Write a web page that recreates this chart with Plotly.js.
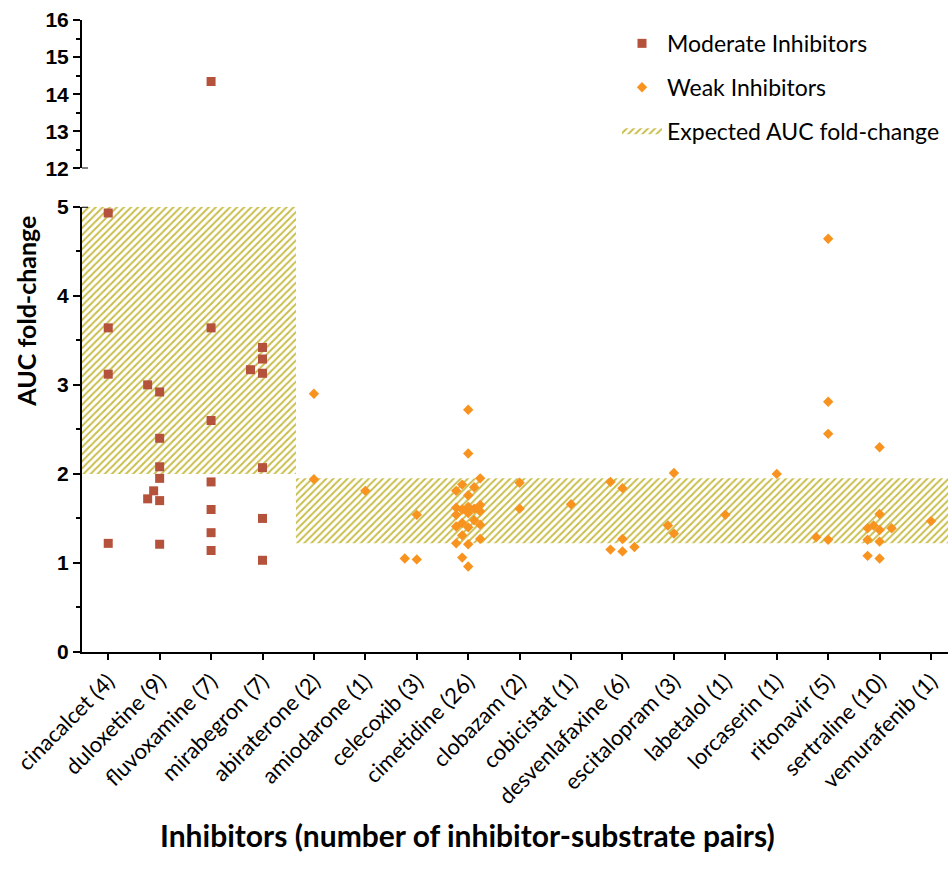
<!DOCTYPE html>
<html><head><meta charset="utf-8">
<script src="https://cdn.plot.ly/plotly-3.0.1.min.js"></script>
<style>html,body{margin:0;padding:0;background:#fff}</style>
</head><body><div id="chart" style="width:948px;height:878px"></div>
<script>
// ---- data ----
const categories = ['cinacalcet (4)','duloxetine (9)','fluvoxamine (7)','mirabegron (7)',
  'abiraterone (2)','amiodarone (1)','celecoxib (3)','cimetidine (26)','clobazam (2)',
  'cobicistat (1)','desvenlafaxine (6)','escitalopram (3)','labetalol (1)','lorcaserin (1)',
  'ritonavir (5)','sertraline (10)','vemurafenib (1)'];
const moderateNames = ['cinacalcet (4)','duloxetine (9)','fluvoxamine (7)','mirabegron (7)'];
const cinacalcet = [4.93, 3.64, 3.12, 1.22];
const duloxetine = [2.92, 3.00, 2.40, 2.08, 1.95, 1.72, 1.70, 1.81, 1.21];
const fluvoxamine = [14.34, 3.64, 2.60, 1.91, 1.60, 1.34, 1.14];
const mirabegron = [3.17, 3.29, 3.13, 3.42, 2.07, 1.50, 1.03];
const abiraterone = [2.90, 1.94];
const amiodarone = [1.81];
const celecoxib = [1.54, 1.04, 1.05];
const cimetidine = [2.72, 2.23, 1.95, 1.85, 1.88, 1.81, 1.76, 1.62, 1.65, 1.61, 1.63, 1.60, 1.56,
  1.54, 1.58, 1.48, 1.43, 1.41, 1.40, 1.31, 1.22, 1.21, 1.27, 1.06, 0.96, 1.45];
const clobazam = [1.90, 1.61];
const cobicistat = [1.66];
const desvenlafaxine = [1.91, 1.84, 1.27, 1.18, 1.13, 1.15];
const escitalopram = [2.01, 1.33, 1.42];
const labetalol = [1.54];
const lorcaserin = [2.00];
const ritonavir = [4.64, 2.81, 2.45, 1.26, 1.29];
const sertraline = [2.30, 1.55, 1.42, 1.39, 1.39, 1.37, 1.26, 1.24, 1.05, 1.08];
const vemurafenib = [1.47];
const valuesByCategory = [cinacalcet, duloxetine, fluvoxamine, mirabegron, abiraterone, amiodarone,
  celecoxib, cimetidine, clobazam, cobicistat, desvenlafaxine, escitalopram, labetalol, lorcaserin,
  ritonavir, sertraline, vemurafenib];
const moderateExpected = [2, 5];
const weakExpected = [1.22, 1.95];
const lowerTicks = [0, 1, 2, 3, 4, 5];
const upperTicks = [12, 13, 14, 15, 16];

// ---- geometry ----
const W = 948, H = 878;
const M = {l: 82, r: 0, t: 20, b: 226.3};
const plotW = W - M.l - M.r, plotH = H - M.t - M.b;
const xRange = [-0.51, 16.33];
const regionSplit = 3.65;
const lowerDomain = [0, 0.7045];
const upperDomain = [0.7652, 1];
const lowerMax = lowerTicks[lowerTicks.length - 1];
const pxPerX = plotW / (xRange[1] - xRange[0]);
const pxPerYLow = plotH * (lowerDomain[1] - lowerDomain[0]) / (lowerMax - lowerTicks[0]);
const pxPerYUp = plotH * (upperDomain[1] - upperDomain[0]) / (upperTicks[upperTicks.length-1] - upperTicks[0]);
const stepPx = 6, diamPx = 10;

function swarm(vals, pxPerY) {
  const idx = vals.map((v, i) => i).sort((a, b) => vals[a] - vals[b]);
  const placed = [], offs = new Array(vals.length);
  const tries = [0, -1, 1, -2, 2];
  idx.forEach(i => {
    const v = vals[i];
    let best = null, bestD = -1;
    for (const k of tries) {
      let dmin = Infinity;
      placed.forEach(p => {
        const d = Math.hypot((p.k - k) * stepPx, (p.v - v) * pxPerY);
        if (d < dmin) dmin = d;
      });
      if (dmin >= diamPx) { best = k; break; }
      if (dmin > bestD) { bestD = dmin; best = k; }
    }
    placed.push({v, k: best});
    offs[i] = best;
  });
  return offs;
}

function buildSeries(isModerate) {
  const low = {x: [], y: []}, up = {x: [], y: []};
  categories.forEach((c, ci) => {
    if (moderateNames.includes(c) !== isModerate) return;
    const vals = valuesByCategory[ci];
    const lowVals = vals.filter(v => v <= lowerMax);
    const upVals = vals.filter(v => v > lowerMax);
    swarm(lowVals, pxPerYLow).forEach((k, j) => {
      low.x.push(ci + k * stepPx / pxPerX); low.y.push(lowVals[j]);
    });
    swarm(upVals, pxPerYUp).forEach((k, j) => {
      up.x.push(ci + k * stepPx / pxPerX); up.y.push(upVals[j]);
    });
  });
  return {low, up};
}

const modS = buildSeries(true), weakS = buildSeries(false);
const modColor = '#b4523c', weakColor = '#f7931e', hatchColor = '#c9be4c';
const pattern = {shape: '/', fgcolor: hatchColor, bgcolor: 'rgba(255,255,255,0)', size: 5, solidity: 0.4};

const traces = [
  {type: 'scatter', mode: 'none', x: [xRange[0], regionSplit, regionSplit, xRange[0]],
   y: [moderateExpected[0], moderateExpected[0], moderateExpected[1], moderateExpected[1]],
   fill: 'toself', fillcolor: 'rgba(0,0,0,0)', fillpattern: pattern,
   name: 'Expected AUC fold-change', legendrank: 3, legendgroup: 'c', hoverinfo: 'skip'},
  {type: 'scatter', mode: 'none', x: [regionSplit, xRange[1], xRange[1], regionSplit],
   y: [weakExpected[0], weakExpected[0], weakExpected[1], weakExpected[1]],
   fill: 'toself', fillcolor: 'rgba(0,0,0,0)', fillpattern: pattern,
   showlegend: false, legendgroup: 'c', hoverinfo: 'skip'},
  {type: 'scatter', mode: 'markers', x: modS.low.x, y: modS.low.y, name: 'Moderate Inhibitors',
   legendrank: 1, legendgroup: 'a', marker: {symbol: 'square', size: 9, color: modColor}},
  {type: 'scatter', mode: 'markers', x: modS.up.x, y: modS.up.y, yaxis: 'y2', showlegend: false,
   legendgroup: 'a', marker: {symbol: 'square', size: 9, color: modColor}},
  {type: 'scatter', mode: 'markers', x: weakS.low.x, y: weakS.low.y, name: 'Weak Inhibitors',
   legendrank: 2, legendgroup: 'b', marker: {symbol: 'diamond', size: 8, color: weakColor}},
  {type: 'scatter', mode: 'markers', x: weakS.up.x, y: weakS.up.y, yaxis: 'y2', showlegend: false,
   legendgroup: 'b', marker: {symbol: 'diamond', size: 8, color: weakColor}}
];

const yCommon = {
  ticks: 'outside', ticklen: 7, tickwidth: 2, tickcolor: '#000', dtick: 1,
  minor: {dtick: 0.5, ticks: 'outside', ticklen: 4, tickwidth: 2, tickcolor: '#000', showgrid: false},
  showline: true, linewidth: 2, linecolor: '#000', showgrid: false, zeroline: false,
  tickfont: {family: 'Liberation Sans, Arial', size: 21, color: '#000', weight: 'bold'},
  fixedrange: true
};

const layout = {
  width: W, height: H, margin: M, paper_bgcolor: '#fff', plot_bgcolor: 'rgba(0,0,0,0)',
  showlegend: true, hovermode: false,
  xaxis: {range: xRange, tickvals: categories.map((c, i) => i), ticktext: categories, tickangle: -45,
    ticks: 'outside', ticklen: 6, tickwidth: 2, tickcolor: '#000', showline: true, linewidth: 2,
    linecolor: '#000', showgrid: false, zeroline: false, anchor: 'y',
    tickfont: {family: 'Lato', size: 22, color: '#000'}, fixedrange: true},
  yaxis: Object.assign({}, yCommon, {domain: lowerDomain, range: [lowerTicks[0], lowerMax], tickvals: lowerTicks}),
  yaxis2: Object.assign({}, yCommon, {domain: upperDomain, range: [upperTicks[0], upperTicks[upperTicks.length-1]],
    tickvals: upperTicks, anchor: 'x'}),
  legend: {x: 0.6178, y: 0.997, xanchor: 'left', yanchor: 'top', bgcolor: 'rgba(0,0,0,0)',
    font: {family: 'Lato', size: 23, color: '#000'}, tracegroupgap: 11, itemwidth: 40},
  shapes: [
    {type: 'line', xref: 'paper', yref: 'y', x0: 0, x1: 6 / plotW, y0: lowerMax, y1: lowerMax,
     line: {color: '#000', width: 2}},
    {type: 'line', xref: 'paper', yref: 'y2', x0: 0, x1: 6 / plotW, y0: upperTicks[0], y1: upperTicks[0],
     line: {color: '#000', width: 2}}
  ],
  annotations: [
    {text: '<b>AUC fold-change</b>', textangle: -90, xref: 'paper', yref: 'paper',
     x: (26 - M.l) / plotW, y: (H - M.b - 311.5) / plotH, xanchor: 'center', yanchor: 'middle',
     showarrow: false, font: {family: 'Lato', size: 25, color: '#000'}},
    {text: '<b>Inhibitors (number of inhibitor-substrate pairs)</b>', xref: 'paper', yref: 'paper',
     x: (467 - M.l) / plotW, y: (H - M.b - 835) / plotH, xanchor: 'center', yanchor: 'middle',
     showarrow: false, font: {family: 'Lato', size: 30, color: '#000'}}
  ]
};

Plotly.newPlot('chart', traces, layout, {displayModeBar: false, staticPlot: true});
</script>
</body></html>
